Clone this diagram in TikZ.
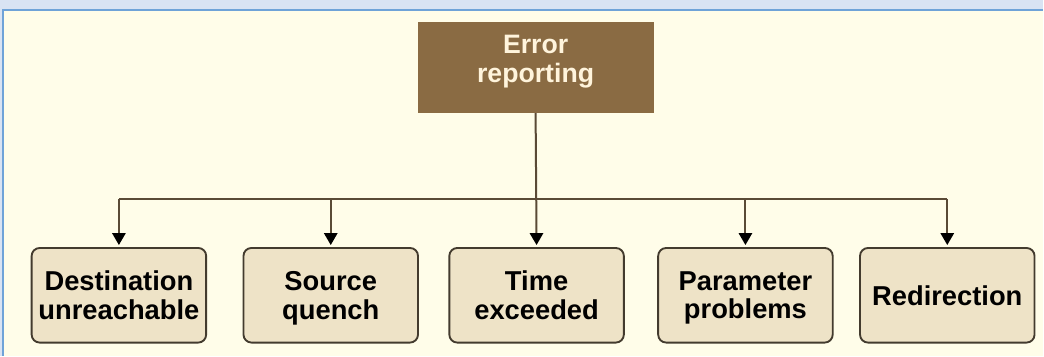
\documentclass[tikz,border=0pt]{standalone}
\usepackage{fontspec}
\setmainfont{Liberation Sans}
\usetikzlibrary{arrows.meta,positioning}
\definecolor{bandblue}{HTML}{D9E3F3}
\definecolor{rimblue}{HTML}{6FA3D8}
\definecolor{paper}{HTML}{FFFDE9}
\definecolor{rootbrown}{HTML}{8A6B43}
\definecolor{roottext}{HTML}{FFF4DC}
\definecolor{leafbeige}{HTML}{EEE3C7}
\definecolor{leafline}{HTML}{433B2E}
\definecolor{wire}{HTML}{5A4A36}

\begin{document}
\begin{tikzpicture}[x=0.75pt,y=-0.75pt,
  root/.style={fill=rootbrown, text=roottext, minimum width=177pt, minimum height=68pt,
    align=center, font=\bfseries\fontsize{20}{21.5}\selectfont, text depth=12.5pt,
    execute at begin node=\strut, execute at end node=\strut},
  leaf/.style={draw=leafline, line width=1.4pt, rounded corners=6pt, fill=leafbeige,
    minimum width=131pt, minimum height=71pt, align=center,
    font=\bfseries\fontsize{20.5}{21.5}\selectfont, text depth=0pt,
    execute at begin node=\strut, execute at end node=\strut},
  link/.style={draw=wire, line width=1.5pt, -{Triangle[width=10pt,length=9pt,black]}, shorten >=1.5pt}]
  \fill[bandblue] (0,0) rectangle (1044,356);
  \fill[paper] (3,10) rectangle (1044,356);
  \draw[rimblue, line width=1.2pt] (3,356) -- (3,10) -- (1044,10);
  \useasboundingbox (0,0) rectangle (1044,356);

  \node[root] (report) at (536,67.5) {Error\\reporting};

  \node[leaf] (dest)  at (119,295.5) {Destination\\unreachable};
  \node[leaf] (quench) at (331,295.5) {Source\\quench};
  \node[leaf] (time)  at (537,295.5) {Time\\exceeded};
  \node[leaf] (param) at (746,295.5) {Parameter\\problems};
  \node[leaf] (redir) at (948,295.5) {Redirection};

  \coordinate (busL) at (119,199);
  \coordinate (busR) at (948,199);

  \draw[wire, line width=1.5pt] (busL) -- (busR);
  \draw[link] (report.south) -- (time.north);
  \foreach \n in {dest, quench, param, redir}
    \draw[link] (busL -| \n.north) -- (\n.north);
\end{tikzpicture}
\end{document}
